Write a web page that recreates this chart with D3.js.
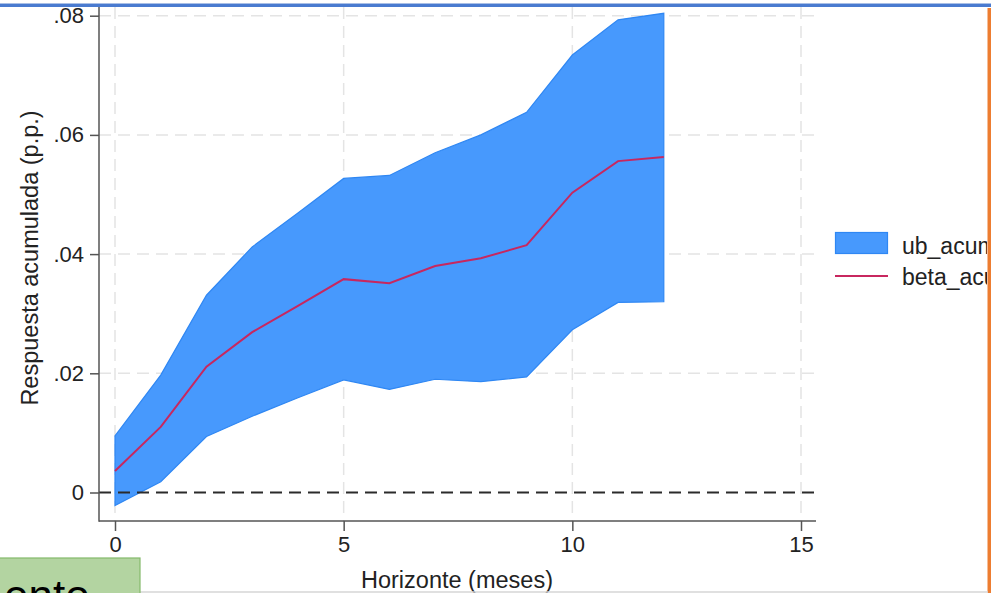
<!DOCTYPE html>
<html><head><meta charset="utf-8">
<script src="https://cdn.jsdelivr.net/npm/d3@7"></script>
<style>
html,body{margin:0;padding:0;background:#fff;overflow:hidden}
svg{display:block;font-family:"Liberation Sans",Arial,sans-serif}
</style></head><body>
<svg id="c" width="991" height="593"></svg>
<script>
const horizon = [0,1,2,3,4,5,6,7,8,9,10,11,12];
const ub_acum   = [0.0095,0.0197,0.0331,0.0412,0.0469,0.0527,0.0532,0.0570,0.0600,0.0638,0.0734,0.0793,0.0804];
const lb_acum   = [-0.0022,0.0018,0.0094,0.0128,0.0159,0.0189,0.0173,0.0190,0.0186,0.0194,0.0273,0.0319,0.0320];
const beta_acum = [0.0036,0.0110,0.0211,0.0269,0.0313,0.0358,0.0351,0.0380,0.0393,0.0415,0.0503,0.0556,0.0563];
const xTicks = [0,5,10,15];
const yTicks = [0,0.02,0.04,0.06,0.08];
const yTickLabels = ["0",".02",".04",".06",".08"];
const legendLabels = ["ub_acumulada","beta_acumulada"];

const svg = d3.select("#c");
const x = d3.scaleLinear().domain([0,15]).range([115,801]);
const y = d3.scaleLinear().domain([0,0.08]).range([492.5,15.7]);
const plotL = 99, plotR = 816, plotB = 521, plotT = 7;

// gridlines
const grid = svg.append("g").attr("stroke","#e4e4e4").attr("stroke-width",1.5).attr("stroke-dasharray","12,7");
grid.selectAll(".gy").data(yTicks.slice(1)).join("line")
  .attr("x1",plotL).attr("x2",plotR).attr("y1",d=>y(d)).attr("y2",d=>y(d));
grid.selectAll(".gx").data(xTicks).join("line")
  .attr("y1",plotT).attr("y2",plotB).attr("x1",d=>x(d)).attr("x2",d=>x(d));

// band
const area = d3.area().x((d,i)=>x(horizon[i])).y0((d,i)=>y(lb_acum[i])).y1((d,i)=>y(ub_acum[i]));
svg.append("path").datum(horizon).attr("d",area)
  .attr("fill","#4799fd").attr("stroke","#2f87f3").attr("stroke-width",1.2);

// zero line
svg.append("line").attr("x1",plotL).attr("x2",plotR).attr("y1",y(0)).attr("y2",y(0))
  .attr("stroke","#2b2b2b").attr("stroke-width",2.2).attr("stroke-dasharray","12,7");

// beta line
const line = d3.line().x((d,i)=>x(horizon[i])).y((d,i)=>y(beta_acum[i]));
svg.append("path").datum(horizon).attr("d",line)
  .attr("fill","none").attr("stroke","#c8275f").attr("stroke-width",2);

// axes
const yAxis = d3.axisLeft(y).tickValues(yTicks).tickFormat((d,i)=>yTickLabels[i]).tickSize(9).tickPadding(6);
const gy = svg.append("g").attr("transform",`translate(${plotL},0)`).call(yAxis);
gy.select(".domain").remove();
gy.selectAll("line").attr("stroke","#555").attr("stroke-width",1.5);
gy.selectAll("text").attr("font-size",22).attr("fill","#222").attr("font-family","Liberation Sans, Arial, sans-serif");
svg.append("line").attr("x1",plotL).attr("x2",plotL).attr("y1",plotT).attr("y2",plotB+0.75)
  .attr("stroke","#555").attr("stroke-width",1.5);

const xAxis = d3.axisBottom(x).tickValues(xTicks).tickFormat(d3.format("d")).tickSize(10).tickPadding(5);
const gx = svg.append("g").attr("transform",`translate(0,${plotB})`).call(xAxis);
gx.select(".domain").remove();
gx.selectAll("line").attr("stroke","#555").attr("stroke-width",1.5);
gx.selectAll("text").attr("font-size",22).attr("fill","#222").attr("font-family","Liberation Sans, Arial, sans-serif");
svg.append("line").attr("x1",plotL).attr("x2",plotR).attr("y1",plotB).attr("y2",plotB)
  .attr("stroke","#555").attr("stroke-width",1.5);

// axis titles
svg.append("text").attr("x",457).attr("y",588).attr("text-anchor","middle")
  .attr("font-size",23.5).attr("fill","#222").text("Horizonte (meses)");
svg.append("text").attr("transform","translate(38,258) rotate(-90)").attr("text-anchor","middle")
  .attr("font-size",23.5).attr("fill","#222").text("Respuesta acumulada (p.p.)");

// legend
svg.append("defs").append("clipPath").attr("id","lc").append("rect")
  .attr("x",820).attr("y",200).attr("width",167).attr("height",120);
const lg = svg.append("g").attr("clip-path","url(#lc)");
lg.append("rect").attr("x",835.5).attr("y",232.5).attr("width",52).attr("height",21)
  .attr("fill","#4799fd").attr("stroke","#2f87f3").attr("stroke-width",1.2);
lg.append("line").attr("x1",835).attr("x2",888).attr("y1",276).attr("y2",276)
  .attr("stroke","#c8275f").attr("stroke-width",2);
lg.selectAll("text").data(legendLabels).join("text")
  .attr("x",902).attr("y",(d,i)=>254+i*31).attr("font-size",23).attr("fill","#222").text(d=>d);

// frame decorations
svg.append("rect").attr("x",0).attr("y",3).attr("width",991).attr("height",1).attr("fill","#a9bfe6");
svg.append("rect").attr("x",0).attr("y",4).attr("width",991).attr("height",3).attr("fill","#4a7bd0");
svg.append("rect").attr("x",987.5).attr("y",8).attr("width",3.5).attr("height",585).attr("fill","#ed7d31");
svg.append("line").attr("x1",0).attr("x2",988).attr("y1",592).attr("y2",592).attr("stroke","#d6d6d6").attr("stroke-width",1.5);
svg.append("rect").attr("x",-1).attr("y",558).attr("width",141).attr("height",40)
  .attr("fill","#b3d4a1").attr("stroke","#84b96b").attr("stroke-width",1.2);
svg.append("text").attr("x",4).attr("y",611).attr("font-size",44).attr("fill","#000").text("ento");
</script></body></html>
